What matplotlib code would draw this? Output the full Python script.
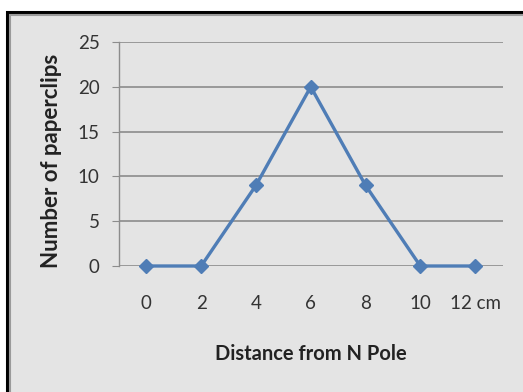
import matplotlib
matplotlib.use('Agg')
import matplotlib.pyplot as plt
from matplotlib.patches import Rectangle

# data
distance_labels = ['0', '2', '4', '6', '8', '10', '12 cm']
paperclips = [0, 0, 9, 20, 9, 0, 0]
y_ticks = [0, 5, 10, 15, 20, 25]

plt.rcParams['font.family'] = ['Lato', 'DejaVu Sans']

fig = plt.figure(figsize=(5.23, 3.92), dpi=100)
fig.patch.set_facecolor('white')

# chart area frame (Excel style) with a shadow line inside
fig.patches.append(Rectangle((7 / 523, -0.05), 1.1, (392 - 12) / 392 + 0.05,
                             transform=fig.transFigure, facecolor='#e4e4e4',
                             edgecolor='black', linewidth=2.2, zorder=-10))
fig.patches.append(Rectangle((10 / 523, -0.05), 1.1, (392 - 15) / 392 + 0.05,
                             transform=fig.transFigure, facecolor='none',
                             edgecolor='#9a9a9a', linewidth=1.5, zorder=-9))

ax = fig.add_axes([119 / 523, 1 - 266 / 392, (502.5 - 119) / 523, (266 - 42) / 392])
ax.set_facecolor('none')

x = list(range(len(distance_labels)))
ax.plot(x, paperclips, color='#4f7db6', linewidth=2.4, marker='D',
        markersize=7.5, clip_on=False, zorder=3)

ax.set_xlim(-0.5, len(distance_labels) - 0.5)
ax.set_ylim(0, 25)
ax.set_yticks(y_ticks)
ax.set_yticklabels([str(v) for v in y_ticks])
ax.set_xticks(x)
ax.set_xticklabels(distance_labels)

for v in y_ticks:
    ax.axhline(v, color='#8c8c8c', linewidth=1.2, zorder=1)

for s in ['top', 'right', 'bottom']:
    ax.spines[s].set_visible(False)
ax.spines['left'].set_color('#8c8c8c')
ax.spines['left'].set_linewidth(1.0)

ax.tick_params(axis='y', length=5, color='#8c8c8c', labelsize=13.5,
               labelcolor='#333333', pad=9)
ax.tick_params(axis='x', length=0, labelsize=13.5, labelcolor='#333333', pad=21)

ax.set_xlabel('Distance from N Pole', fontsize=14.5, fontweight='bold',
              color='#222222', va='center')
ax.xaxis.set_label_coords(0.5, (266 - 354) / 224)
ax.set_ylabel('Number of paperclips', fontsize=16, fontweight='bold',
              color='#222222', va='center')
ax.yaxis.set_label_coords((52 - 119) / 383.5, 0.47)

fig.savefig('out.png', dpi=100)
